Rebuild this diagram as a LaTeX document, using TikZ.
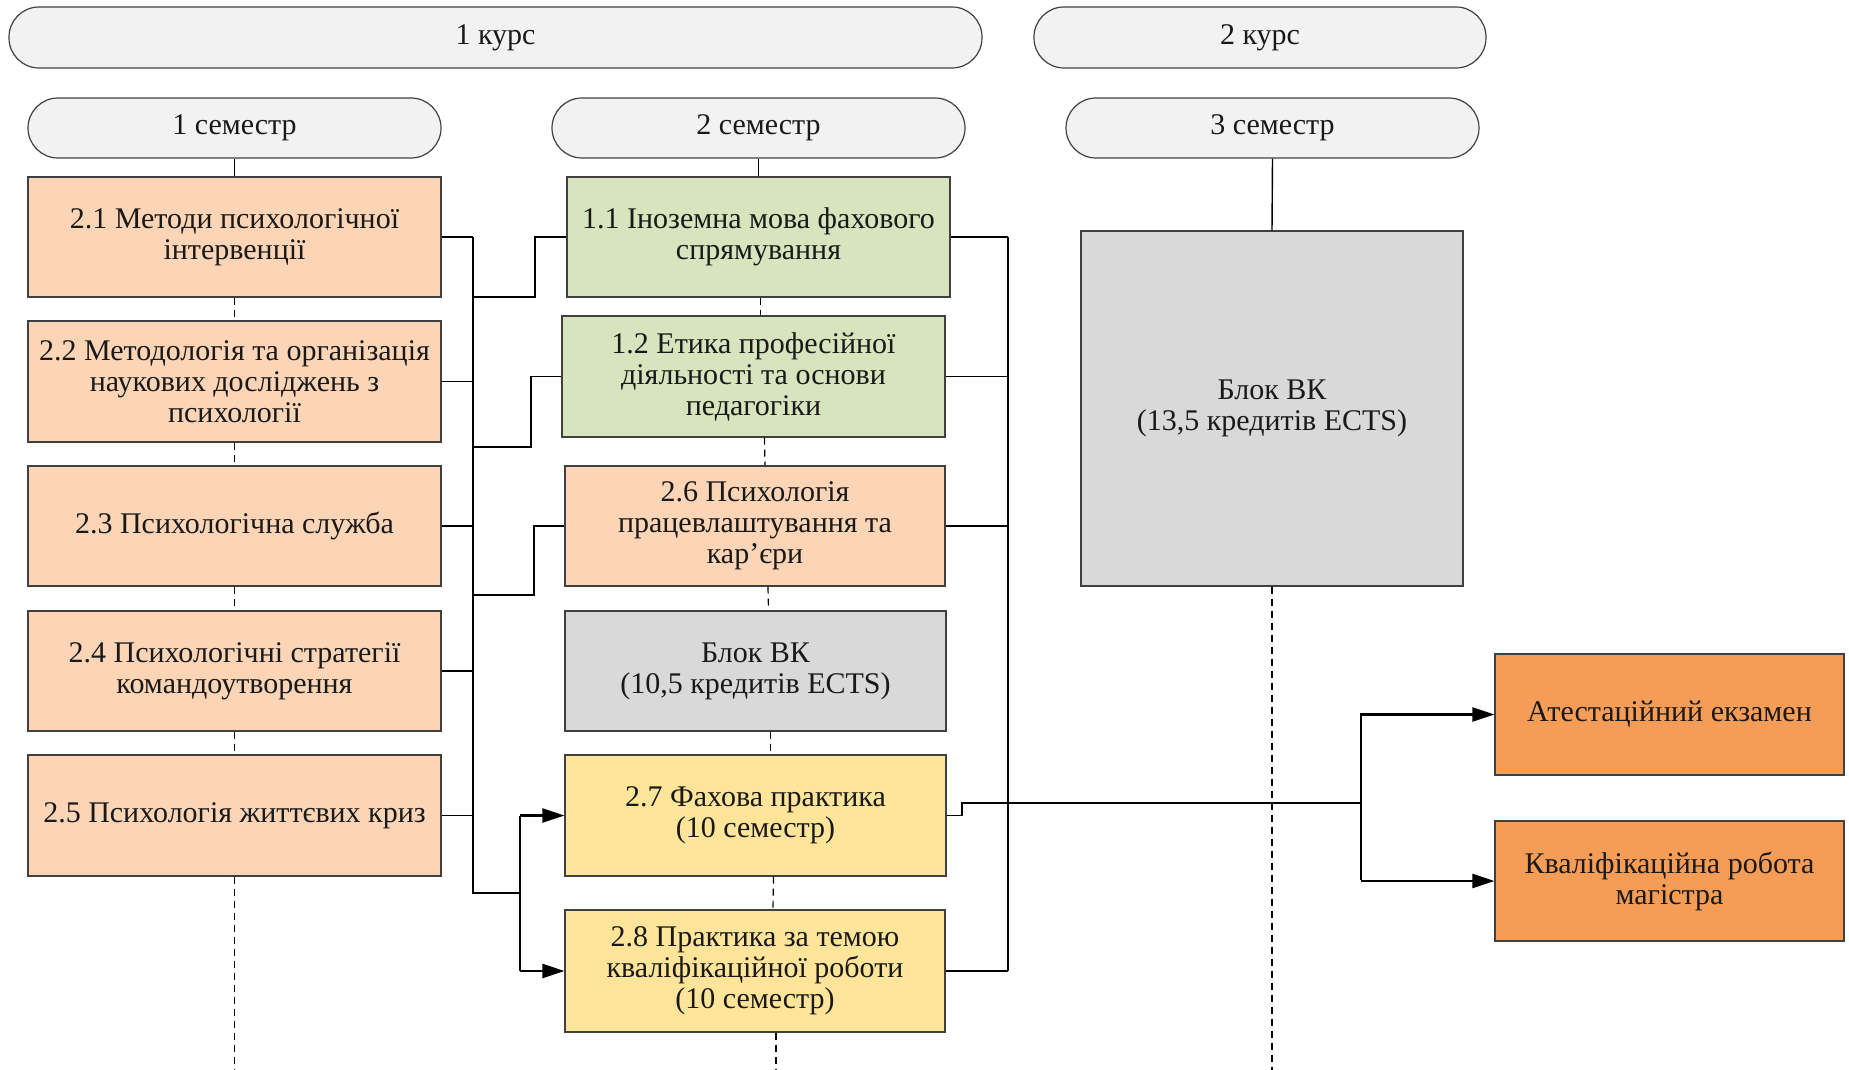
\documentclass[tikz,border=0pt]{standalone}
\usepackage{fontspec}
\setmainfont{Liberation Serif}
\usetikzlibrary{arrows.meta,calc}
\definecolor{peach}{HTML}{FBD5B6}
\definecolor{olivegreen}{HTML}{D7E4BD}
\definecolor{blockgray}{HTML}{D9D9D9}
\definecolor{goldyellow}{HTML}{FFE599}
\definecolor{deeporange}{HTML}{F59D56}
\definecolor{pillgray}{HTML}{F2F2F2}
\begin{document}
\begin{tikzpicture}[x=0.5pt,y=-0.5pt,
  every node/.style={font=\fontsize{15}{15.5}\selectfont, text=black!90, inner sep=0pt, align=center},
  pill/.style={draw=black!75, fill=pillgray, rounded corners=15pt, line width=0.6pt, minimum height=30.5pt},
  box/.style={draw=black!75, line width=0.6pt},
  thinline/.style={draw=black, line width=0.7pt},
  busline/.style={draw=black, line width=1.1pt},
  dashline/.style={draw=black, line width=0.6pt, dash pattern=on 3.5pt off 2.5pt},
  arr/.style={busline, -{Triangle[length=11pt,width=7pt]}}
]
\useasboundingbox (0,0) rectangle (1849,1070);

% pills
\node[pill, minimum width=486.5pt] (k1) at (495.5,37.5) {1 курс};
\node[pill, minimum width=226pt] (k2) at (1260,37.5) {2 курс};
\node[pill, minimum width=206.5pt, minimum height=30pt] (s1) at (234.5,128) {1 семестр};
\node[pill, minimum width=206.5pt, minimum height=30pt] (s2) at (758.5,128) {2 семестр};
\node[pill, minimum width=206.5pt, minimum height=30pt] (s3) at (1272.5,128) {3 семестр};

% left column
\node[box, fill=peach, minimum width=206.5pt, minimum height=60pt] (b21) at (234.5,237) {2.1 Методи психологічної\\інтервенції};
\node[box, fill=peach, minimum width=206.5pt, minimum height=60.5pt] (b22) at (234.5,381.5) {2.2 Методологія та організація\\наукових досліджень з\\психології};
\node[box, fill=peach, minimum width=206.5pt, minimum height=60pt] (b23) at (234.5,526) {2.3 Психологічна служба};
\node[box, fill=peach, minimum width=206.5pt, minimum height=60pt] (b24) at (234.5,671) {2.4 Психологічні стратегії\\командоутворення};
\node[box, fill=peach, minimum width=206.5pt, minimum height=60.5pt] (b25) at (234.5,815.5) {2.5 Психологія життєвих криз};

% middle column
\node[box, fill=olivegreen, minimum width=191.5pt, minimum height=60pt] (b11) at (758.5,237) {1.1 Іноземна мова фахового\\спрямування};
\node[box, fill=olivegreen, minimum width=191.5pt, minimum height=60.5pt] (b12) at (753.5,376.5) {1.2 Етика професійної\\діяльності та основи\\педагогіки};
\node[box, fill=peach, minimum width=190pt, minimum height=60pt] (b26) at (755,526) {2.6 Психологія\\працевлаштування та\\кар’єри};
\node[box, fill=blockgray, minimum width=190.5pt, minimum height=60pt] (bvk1) at (755.5,671) {Блок ВК\\(10,5 кредитів ECTS)};
\node[box, fill=goldyellow, minimum width=190.5pt, minimum height=60.5pt] (b27) at (755.5,815.5) {2.7 Фахова практика\\(10 семестр)};
\node[box, fill=goldyellow, minimum width=190pt, minimum height=61pt] (b28) at (755,971) {2.8 Практика за темою\\кваліфікаційної роботи\\(10 семестр)};

% right column
\node[box, fill=blockgray, minimum width=191pt, minimum height=177.5pt] (bvk2) at (1272,408.5) {Блок ВК\\(13,5 кредитів ECTS)};
\node[box, fill=deeporange, minimum width=174.5pt, minimum height=60.5pt] (att) at (1669.5,714.5) {Атестаційний екзамен};
\node[box, fill=deeporange, minimum width=174.5pt, minimum height=60pt] (kval) at (1669.5,881) {Кваліфікаційна робота\\магістра};

% free ends
\coordinate (endL) at (234.5,1070);
\coordinate (endM) at (776,1070);
\coordinate (endR) at (1272,1070);

% semester to first box
\draw[thinline] (s1.south) -- (b21.north);
\draw[thinline] (s2.south) -- (b11.north);
\draw[thinline] (s3.south) -- (bvk2.north);

% dashed timelines
\draw[dashline] (b21.south) -- (b22.north);
\draw[dashline] (b22.south) -- (b23.north);
\draw[dashline] (b23.south) -- (b24.north);
\draw[dashline] (b24.south) -- (b25.north);
\draw[dashline] (b25.south) -- (endL);
\draw[dashline] ([xshift=1pt]b11.south) -- ([xshift=3.5pt]b12.north);
\draw[dashline] ([xshift=5.5pt]b12.south) -- ([xshift=5pt]b26.north);
\draw[dashline] ([xshift=6.5pt]b26.south) -- ([xshift=6.5pt]bvk1.north);
\draw[dashline] ([xshift=7.5pt]bvk1.south) -- ([xshift=7.5pt]b27.north);
\draw[dashline] ([xshift=9pt]b27.south) -- ([xshift=9pt]b28.north);
\draw[dashline] ([xshift=10.5pt]b28.south) -- (endM);
\draw[dashline] (bvk2.south) -- (endR);

% left bus
\draw[busline] (473,237) -- (473,893) -- (520,893);
\draw[thinline] (b21.east) -- (473,237);
\draw[thinline] (b22.east) -- (473,381.5);
\draw[thinline] (b23.east) -- (473,526);
\draw[thinline] (b24.east) -- (473,671);
\draw[thinline] (b25.east) -- (473,815.5);
\draw[thinline] (473,297) -- (535,297) |- (b11.west);
\draw[thinline] (473,447) -- (531,447) |- (b12.west);
\draw[thinline] (473,595) -- (534,595) |- (b26.west);
\draw[busline] (520,815.5) -- (520,971);
\draw[arr] (520,815.5) -- (b27.west);
\draw[arr] (520,971) -- (b28.west);

% right bus
\draw[busline] (1008,237) -- (1008,971);
\draw[thinline] (b11.east) -- (1008,237);
\draw[thinline] (b12.east) -- (1008,376.5);
\draw[thinline] (b26.east) -- (1008,526);
\draw[thinline] (b28.east) -- (1008,971);

% 2.7 to final
\draw[thinline] (b27.east) -- (962,815.5) -- (962,803) -- (1361,803);
\draw[thinline] (1361,713) -- (1361,880);
\draw[arr] (1361,714.5) -- (att.west);
\draw[arr] (1361,881) -- (kval.west);
\end{tikzpicture}
\end{document}
